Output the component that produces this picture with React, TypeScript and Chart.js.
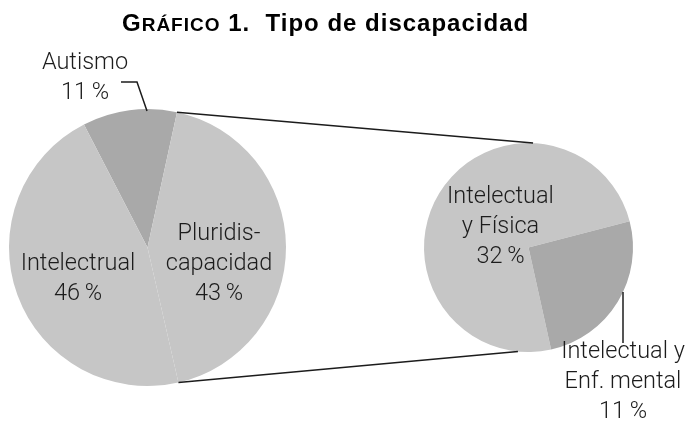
import React, { useEffect, useRef } from "react";
import { Chart, registerables } from "chart.js";

Chart.register(...registerables);

// ---- data ----
const mainCategories = ["Autismo", "Pluridiscapacidad", "Intelectrual"];
const mainValues = [11, 43, 46];
const mainLabelNames = [["Autismo"], ["Pluridis-", "capacidad"], ["Intelectrual"]];
const subCategories = ["Intelectual y Física", "Intelectual y Enf. mental"];
const subValues = [32, 11];
const subLabelNames = [["Intelectual", "y Física"], ["Intelectual y", "Enf. mental"]];
const titleLead = "G";
const titleSmallCaps = "RÁFICO";
const titleRest = " 1.  Tipo de discapacidad";

// ---- styles ----
const LIGHT = "#c6c6c6";
const DARK = "#a9a9a9";
const TEXT = "#1c1c1c";
const LINE = "#1c1c1c";
const LABEL_FONT = "300 23.5px Roboto";
const LINE_GAP = 30;
const mainColors = [DARK, LIGHT, LIGHT];
const subColors = [LIGHT, DARK];

// label block anchors relative to pie center: [dx, first baseline dy]
const mainLabelPos = [
  [-62.5, -179],
  [71.5, -7.5],
  [-69.5, 22.5],
];
const subLabelPos = [
  [-28, -44.5],
  [94.5, 110.5],
];
// leader polylines relative to pie center
const mainLeaders: (number[][] | null)[] = [
  [[-0.5, -136.5], [-10.5, -165.5], [-26.5, -165.5]],
  null,
  null,
];
const subLeaders: (number[][] | null)[] = [null, [[94.5, 44.5], [94.5, 95.5]]];
// where the connectors meet the small pie, degrees clockwise from top
const CONNECT_TOP = 2.5;
const CONNECT_BOTTOM = 185.8;

function labelPlugin(names: string[][], values: number[], pos: number[][], leaders: (number[][] | null)[]) {
  return {
    id: "pieLabels",
    afterDatasetsDraw(chart: any) {
      const arc = chart.getDatasetMeta(0).data[0];
      const cx = arc.x;
      const cy = arc.y;
      const ctx = chart.ctx;
      ctx.save();
      ctx.strokeStyle = LINE;
      ctx.lineWidth = 1.5;
      leaders.forEach((pts) => {
        if (!pts) return;
        ctx.beginPath();
        pts.forEach((p, i) => {
          if (i === 0) ctx.moveTo(cx + p[0], cy + p[1]);
          else ctx.lineTo(cx + p[0], cy + p[1]);
        });
        ctx.stroke();
      });
      ctx.fillStyle = TEXT;
      ctx.font = LABEL_FONT;
      ctx.textAlign = "center";
      ctx.textBaseline = "alphabetic";
      names.forEach((lines, i) => {
        const all = [...lines, `${values[i]}\u2009%`];
        all.forEach((t, j) => {
          ctx.fillText(t, cx + pos[i][0], cy + pos[i][1] + j * LINE_GAP);
        });
      });
      ctx.restore();
    },
  };
}

const titlePlugin = {
  id: "titleText",
  afterDraw(chart: any) {
    const ctx = chart.ctx;
    ctx.save();
    ctx.fillStyle = "#000";
    ctx.textBaseline = "alphabetic";
    ctx.textAlign = "left";
    let x = 122;
    const y = 31;
    (ctx as any).letterSpacing = "1px";
    ctx.font = "bold 24px 'Liberation Sans'";
    ctx.fillText(titleLead, x, y);
    x += ctx.measureText(titleLead).width;
    ctx.font = "bold 19px 'Liberation Sans'";
    ctx.fillText(titleSmallCaps, x, y);
    x += ctx.measureText(titleSmallCaps).width;
    ctx.font = "bold 24px 'Liberation Sans'";
    ctx.fillText(titleRest, x, y);
    ctx.restore();
  },
};

function connectorPlugin(getLeft: () => any) {
  return {
    id: "connectors",
    afterDraw(chart: any) {
      const left = getLeft();
      if (!left) return;
      const src = left.getDatasetMeta(0).data[1];
      const dst = chart.getDatasetMeta(0).data[0];
      const sr = src.outerRadius;
      const dr = dst.outerRadius;
      const a1 = src.startAngle;
      const a2 = src.endAngle;
      const t1 = ((CONNECT_TOP - 90) * Math.PI) / 180;
      const t2 = ((CONNECT_BOTTOM - 90) * Math.PI) / 180;
      const ctx = chart.ctx;
      ctx.save();
      ctx.strokeStyle = LINE;
      ctx.lineWidth = 1.5;
      ctx.beginPath();
      ctx.moveTo(src.x + sr * Math.cos(a1), src.y + sr * Math.sin(a1));
      ctx.lineTo(dst.x + dr * Math.cos(t1), dst.y + dr * Math.sin(t1));
      ctx.moveTo(src.x + sr * Math.cos(a2), src.y + sr * Math.sin(a2));
      ctx.lineTo(dst.x + dr * Math.cos(t2), dst.y + dr * Math.sin(t2));
      ctx.stroke();
      ctx.restore();
    },
  };
}

export default function App() {
  const leftRef = useRef<HTMLCanvasElement>(null);
  const rightRef = useRef<HTMLCanvasElement>(null);

  useEffect(() => {
    let leftChart: any = null;
    leftChart = new Chart(leftRef.current as HTMLCanvasElement, {
      type: "pie",
      data: {
        labels: mainCategories,
        datasets: [
          {
            data: mainValues,
            backgroundColor: mainColors,
            borderWidth: 0,
          },
        ],
      },
      options: {
        responsive: false,
        animation: false,
        rotation: -27.3,
        layout: { padding: { left: 9, right: 401, top: 109, bottom: 44 } },
        plugins: { legend: { display: false }, tooltip: { enabled: false }, title: { display: false } },
        events: [],
      },
      plugins: [labelPlugin(mainLabelNames, mainValues, mainLabelPos, mainLeaders), titlePlugin],
    } as any);

    const rightChart = new Chart(rightRef.current as HTMLCanvasElement, {
      type: "pie",
      data: {
        labels: subCategories,
        datasets: [
          {
            data: subValues,
            backgroundColor: subColors,
            borderWidth: 0,
          },
        ],
      },
      options: {
        responsive: false,
        animation: false,
        rotation: 167.5,
        layout: { padding: { left: 424, right: 54, top: 143, bottom: 78 } },
        plugins: { legend: { display: false }, tooltip: { enabled: false }, title: { display: false } },
        events: [],
      },
      plugins: [connectorPlugin(() => leftChart), labelPlugin(subLabelNames, subValues, subLabelPos, subLeaders)],
    } as any);

    return () => {
      rightChart.destroy();
      leftChart.destroy();
    };
  }, []);

  const canvasStyle: React.CSSProperties = { position: "absolute", left: 0, top: 0, width: 687, height: 430 };
  return (
    <div style={{ position: "absolute", left: 0, top: 0, width: 687, height: 430, background: "#fff" }}>
      <canvas ref={leftRef} width={687} height={430} style={canvasStyle} />
      <canvas ref={rightRef} width={687} height={430} style={canvasStyle} />
    </div>
  );
}
